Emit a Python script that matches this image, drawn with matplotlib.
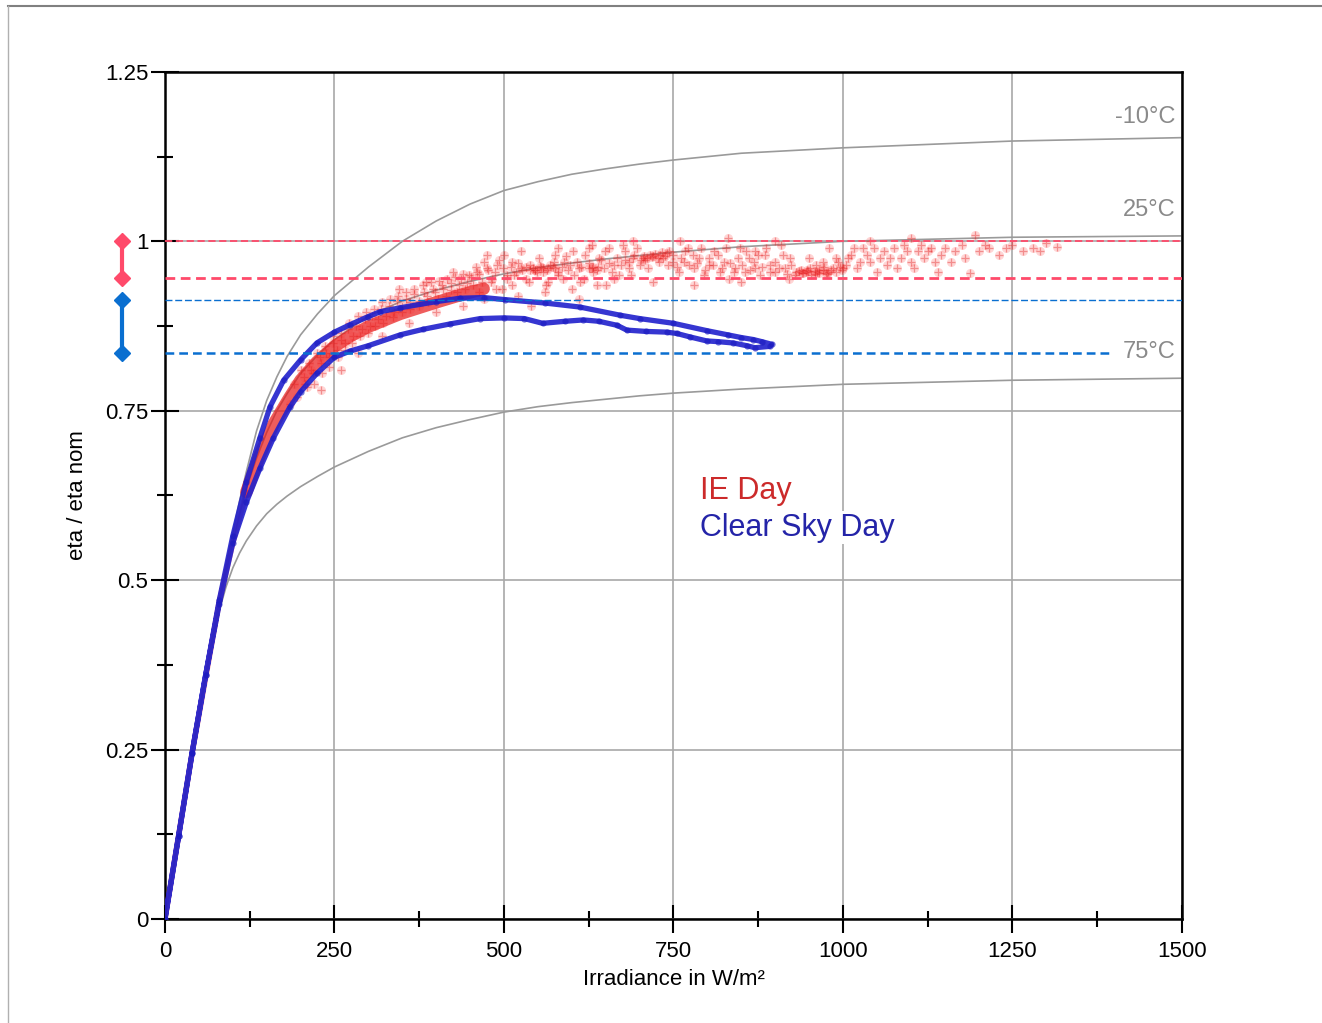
import matplotlib
matplotlib.use("Agg")
import matplotlib.pyplot as plt
import matplotlib.transforms as mtransforms
from matplotlib.lines import Line2D

plt.rcParams["font.family"] = ["Liberation Sans", "DejaVu Sans"]

# model curves (eta / eta nom vs irradiance)
curve_x = [0, 40, 60, 80, 90, 100, 110, 120, 135, 150, 165, 180, 200, 225, 250,
           300, 350, 400, 450, 500, 550, 600, 650, 700, 750, 850, 1000, 1250, 1500]
curve_m10 = [0, 0.245, 0.36, 0.47, 0.522, 0.57, 0.617, 0.66, 0.72, 0.765, 0.80, 0.83,
             0.862, 0.893, 0.92, 0.962, 1.0, 1.03, 1.055, 1.075, 1.088, 1.099, 1.107,
             1.114, 1.12, 1.13, 1.138, 1.148, 1.153]
curve_25 = [0, 0.245, 0.36, 0.465, 0.512, 0.555, 0.597, 0.635, 0.68, 0.718, 0.75, 0.775,
            0.805, 0.832, 0.855, 0.89, 0.912, 0.928, 0.941, 0.952, 0.961, 0.968, 0.974,
            0.979, 0.984, 0.992, 1.0, 1.006, 1.008]
curve_75 = [0, 0.245, 0.355, 0.455, 0.49, 0.518, 0.54, 0.558, 0.58, 0.598, 0.612,
            0.624, 0.638, 0.653, 0.667, 0.69, 0.71, 0.725, 0.737, 0.748, 0.756, 0.762,
            0.767, 0.772, 0.776, 0.782, 0.789, 0.795, 0.798]
curve_labels = ["-10°C", "25°C", "75°C"]
curve_label_y = [1.183, 1.046, 0.837]

# clear sky day: one loop, up along the upper branch, back along the lower one
blue_x = [0, 20, 40, 60, 80, 100, 120, 140, 155, 175, 200, 224, 250, 273, 300, 317,
          347, 400, 435, 470, 501, 560, 612, 671, 700, 750, 800, 830, 850, 868, 880,
          895, 892, 870, 858, 838, 815, 799, 774, 755, 740, 710, 681, 667, 640, 617,
          590, 557, 530, 500, 465, 420, 380, 347, 300, 273, 250, 224, 200, 184, 160,
          140, 120, 100, 80, 60, 40, 20, 0]
blue_y = [0, 0.122, 0.245, 0.36, 0.47, 0.565, 0.645, 0.71, 0.756, 0.795, 0.825, 0.85,
          0.866, 0.877, 0.889, 0.896, 0.902, 0.911, 0.916, 0.917, 0.914, 0.909, 0.903,
          0.891, 0.886, 0.879, 0.868, 0.862, 0.858, 0.855, 0.852, 0.848, 0.845, 0.843,
          0.846, 0.85, 0.852, 0.853, 0.859, 0.864, 0.866, 0.867, 0.869, 0.876, 0.882,
          0.884, 0.882, 0.879, 0.886, 0.887, 0.886, 0.878, 0.87, 0.862, 0.846, 0.838,
          0.829, 0.805, 0.778, 0.755, 0.71, 0.665, 0.615, 0.555, 0.465, 0.36, 0.245,
          0.122, 0]

# IE day: dense core at low irradiance
red_core_x = [0, 40, 80, 100, 120, 140, 160, 184, 200, 224, 250, 273, 300, 347, 400,
              440, 470]
red_core_y = [0, 0.245, 0.468, 0.555, 0.63, 0.685, 0.73, 0.77, 0.795, 0.822, 0.845,
              0.86, 0.874, 0.893, 0.91, 0.922, 0.93]

# IE day: scattered points
red_x = [185, 190, 195, 205, 210, 215, 220, 228, 232, 238, 242, 248, 255, 260, 265,
         270, 276, 282, 288, 295, 300, 230, 260, 285,
         305, 310, 318, 322, 330, 336, 342, 350, 356, 362, 368, 375, 382, 388, 395,
         402, 408, 415, 422, 430, 436, 443, 448, 320, 360, 400, 440, 345, 385, 425,
         455, 460, 468, 475, 482, 490, 497, 505, 512, 518, 525, 532, 538, 545, 552,
         558, 565, 572, 580, 588, 595, 602, 610, 618, 625, 632, 640, 648, 655, 662,
         670, 678, 685, 692, 700, 470, 520, 560, 600, 650, 500, 580, 630, 690, 540,
         610, 545, 555, 565, 575, 630, 638,
         705, 712, 720, 728, 735, 742, 750, 758, 765, 772, 780, 788, 795, 802, 810,
         818, 825, 832, 840, 848, 855, 862, 870, 878, 885, 892, 900, 908, 915, 922,
         930, 938, 945, 952, 958, 965, 972, 978, 985, 992, 998, 720, 780, 850, 920,
         760, 830, 900, 980, 950, 870, 708, 718, 730, 740, 940, 948, 962, 975,
         1005, 1012, 1020, 1030, 1040, 1050, 1060, 1070, 1080, 1090, 1100, 1110, 1120,
         1130, 1145, 1160, 1175, 1187, 1200, 1215, 1230, 1250, 1265, 1280, 1300, 1315,
         1040, 1100, 1195, 1140,
         200, 206, 212, 218, 224, 230, 236, 242, 248, 254, 260, 266, 272, 278, 284,
         290, 296, 302, 308, 314, 320, 326, 332, 338, 344, 350, 356, 362, 368, 374,
         380, 386, 392, 398, 404, 410, 416, 422, 428, 434, 440, 446,
         452, 458, 463, 470, 476, 481, 487, 493, 499, 504, 510, 515, 521, 527, 533,
         538, 543, 548, 553, 558, 563, 568, 574, 579, 585, 591, 597, 603, 608, 614,
         620, 626, 632, 637, 643, 649, 655, 660, 666, 672, 678, 684, 690, 696, 463,
         488, 512, 537, 562, 587, 612, 637, 662, 687, 475, 525, 575, 625, 675,
         702, 706, 711, 716, 722, 727, 733, 738, 744, 749, 755, 761, 767, 773, 779,
         785, 791, 797, 803, 809, 815, 821, 827, 833, 839, 845, 851, 857, 863, 869,
         875, 881, 887, 893, 899, 905, 911, 917, 923, 929, 935, 941, 947, 953, 959,
         965, 971, 977, 983, 989, 995, 960, 970, 990, 1000,
         1008, 1016, 1025, 1035, 1045, 1055, 1065, 1075, 1085, 1095, 1105, 1115, 1125,
         1135, 1150, 1165, 1180, 1210, 1240, 1290]
red_y = [0.76, 0.79, 0.77, 0.80, 0.785, 0.81, 0.79, 0.83, 0.805, 0.835, 0.815, 0.85,
         0.83, 0.855, 0.84, 0.87, 0.85, 0.875, 0.86, 0.885, 0.865, 0.78, 0.81, 0.835,
         0.89, 0.875, 0.90, 0.88, 0.905, 0.888, 0.912, 0.895, 0.915, 0.90, 0.922,
         0.905, 0.925, 0.91, 0.93, 0.915, 0.935, 0.92, 0.938, 0.925, 0.945, 0.93,
         0.95, 0.86, 0.88, 0.895, 0.905, 0.93, 0.94, 0.955,
         0.935, 0.955, 0.94, 0.96, 0.945, 0.965, 0.93, 0.95, 0.97, 0.955, 0.96, 0.945,
         0.965, 0.958, 0.975, 0.955, 0.94, 0.962, 0.95, 0.97, 0.958, 0.985, 0.96,
         0.945, 0.968, 0.955, 0.975, 0.96, 0.99, 0.965, 0.95, 0.972, 0.96, 0.98,
         0.965, 0.915, 0.92, 0.925, 0.93, 0.935, 0.98, 0.99, 0.995, 1.0, 0.905, 0.915,
         0.958, 0.962, 0.96, 0.961, 0.96, 0.962,
         0.975, 0.96, 0.978, 0.97, 0.975, 0.965, 0.98, 0.955, 0.97, 0.99, 0.96, 0.975,
         0.95, 0.965, 0.985, 0.955, 0.97, 0.945, 0.96, 0.99, 0.955, 0.975, 0.96,
         0.95, 0.98, 0.965, 0.955, 0.995, 0.96, 0.975, 0.955, 0.958, 0.955, 0.96,
         0.952, 0.957, 0.962, 0.955, 0.96, 0.97, 0.958, 0.94, 0.935, 0.94, 0.945,
         1.0, 1.005, 1.0, 0.99, 0.975, 0.985, 0.972, 0.977, 0.98, 0.983, 0.953,
         0.956, 0.955, 0.953,
         0.965, 0.98, 0.96, 0.99, 0.97, 0.955, 0.985, 0.975, 0.96, 0.995, 0.97, 0.985,
         0.975, 0.99, 0.98, 0.97, 0.995, 0.953, 0.985, 0.99, 0.98, 0.995, 0.985, 0.99,
         0.998, 0.992, 1.0, 1.005, 1.01, 0.955,
         0.81, 0.79, 0.82, 0.805, 0.835, 0.82, 0.845, 0.83, 0.86, 0.84, 0.865, 0.85,
         0.88, 0.86, 0.89, 0.87, 0.895, 0.875, 0.9, 0.885, 0.91, 0.89, 0.915, 0.895,
         0.92, 0.905, 0.925, 0.91, 0.93, 0.912, 0.935, 0.92, 0.94, 0.925, 0.942, 0.93,
         0.945, 0.928, 0.948, 0.935, 0.952, 0.938,
         0.948, 0.962, 0.952, 0.97, 0.958, 0.94, 0.955, 0.972, 0.96, 0.945, 0.962,
         0.95, 0.968, 0.957, 0.962, 0.958, 0.96, 0.955, 0.963, 0.96, 0.958, 0.965,
         0.97, 0.955, 0.962, 0.978, 0.965, 0.95, 0.97, 0.962, 0.98, 0.96, 0.962, 0.958,
         0.972, 0.985, 0.968, 0.955, 0.975, 0.965, 0.985, 0.97, 0.976, 0.99, 0.925,
         0.93, 0.935, 0.94, 0.935, 0.945, 0.94, 0.935, 0.945, 0.95, 0.98, 0.985, 0.98,
         0.99, 0.995,
         0.972, 0.978, 0.975, 0.98, 0.982, 0.976, 0.984, 0.978, 0.985, 0.97, 0.962,
         0.975, 0.985, 0.965, 0.98, 0.968, 0.99, 0.958, 0.975, 0.965, 0.98, 0.96, 0.99,
         0.968, 0.955, 0.975, 0.965, 0.985, 0.958, 0.97, 0.98, 0.962, 0.99, 0.955,
         0.97, 0.96, 0.98, 0.952, 0.965, 0.95, 0.956, 0.953, 0.958, 0.951, 0.956,
         0.953, 0.958, 0.952, 0.957, 0.955, 0.962, 0.965, 0.97, 0.975, 0.96,
         0.975, 0.99, 0.97, 0.98, 0.99, 0.975, 0.965, 0.99, 0.975, 0.985, 0.96, 0.995,
         0.985, 0.97, 0.99, 0.985, 0.975, 0.995, 0.99, 0.985]

# reference levels (dashed lines and the brackets at the left)
red_levels = [1.0, 0.946]
blue_levels = [0.9135, 0.835]

x_ticks = [0, 250, 500, 750, 1000, 1250, 1500]
y_ticks = [0, 0.25, 0.5, 0.75, 1.0, 1.25]
y_tick_labels = ["0", "0.25", "0.5", "0.75", "1", "1.25"]

fig = plt.figure(figsize=(13.22, 10.23), dpi=100)
ax = fig.add_axes([0.1248, 0.1017, 0.7693, 0.8280])

pink = "#ff4a6a"
lblue = "#0a6fd0"

ax.set_xlim(0, 1500)
ax.set_ylim(0, 1.25)
ax.grid(True, color="#a8a8a8", lw=1.2)
ax.set_axisbelow(True)

for cy in (curve_m10, curve_25, curve_75):
    ax.plot(curve_x, cy, color="#9a9a9a", lw=1.2, zorder=2)
for lab, ly in zip(curve_labels, curve_label_y):
    ax.text(1490, ly, lab, ha="right", va="center", fontsize=17, color="#8a8a8a")

# thin near the origin, wide band once the points spread out
ax.plot(red_core_x[:5], red_core_y[:5], color="#d02040", lw=4, alpha=0.55,
        solid_capstyle="round", zorder=3)
ax.plot(red_core_x[4:], red_core_y[4:], color="#e81818", lw=9, alpha=0.7,
        solid_capstyle="round", zorder=3)
ax.plot(red_x, red_y, "o", ms=6.5, color="#ff3030", alpha=0.2, mec="none", zorder=3)
ax.plot(red_x, red_y, "+", ms=6, mew=0.9, color="#e02020", alpha=0.4, zorder=3)

ax.plot(blue_x, blue_y, color="#2020cc", lw=3.8, alpha=0.9, zorder=4)
ax.plot(blue_x, blue_y, "o", ms=4.5, color="#1a1ac0", alpha=0.6, mec="none", zorder=4)

ax.axhline(red_levels[0], color=pink, lw=1.3, ls=(0, (4, 2)), zorder=5)
ax.axhline(red_levels[1], color=pink, lw=2.0, ls=(0, (3.5, 2)), zorder=5)
ax.axhline(blue_levels[0], color=lblue, lw=1.0, ls=(0, (5, 2)), zorder=5)
ax.plot([0, 1397], [blue_levels[1]] * 2, color=lblue, lw=1.8, ls=(0, (3.5, 2)), zorder=5)

trans = mtransforms.blended_transform_factory(ax.transAxes, ax.transData)
ax.plot([-0.0423] * 2, red_levels, color=pink, lw=3, marker="D", ms=8,
        transform=trans, clip_on=False)
ax.plot([-0.0423] * 2, blue_levels, color=lblue, lw=3, marker="D", ms=8,
        transform=trans, clip_on=False)

box = dict(facecolor="white", edgecolor="none", pad=1)
ax.text(789, 0.631, "IE Day", fontsize=22, color="#cc2a2a", va="center", bbox=box, zorder=6)
ax.text(789, 0.577, "Clear Sky Day", fontsize=22, color="#2424a8", va="center", bbox=box, zorder=6)

ax.set_xticks(x_ticks)
ax.set_xticks([t + 125 for t in x_ticks[:-1]], minor=True)
ax.set_yticks(y_ticks)
ax.set_yticklabels(y_tick_labels)
ax.set_yticks([t + 0.125 for t in y_ticks[:-1]], minor=True)
ax.tick_params(which="major", direction="inout", length=20, width=1.5, labelsize=16,
               colors="black")
ax.tick_params(axis="x", which="major", pad=6)
ax.tick_params(axis="y", which="major", pad=2)
ax.tick_params(which="minor", direction="inout", length=11, width=1.5)
for sp in ax.spines.values():
    sp.set_linewidth(1.8)

ax.set_xlabel("Irradiance in W/m²", fontsize=16, labelpad=5)
ax.set_ylabel("eta / eta nom", fontsize=16, labelpad=12)

# thin grey frame around the picture
fig.add_artist(Line2D([8 / 1322, 1], [1 - 6 / 1023] * 2, color="#808080", lw=1.5))
fig.add_artist(Line2D([8 / 1322] * 2, [0, 1 - 6 / 1023], color="#b0b0b0", lw=1.0))

fig.savefig("out.png", dpi=100)
